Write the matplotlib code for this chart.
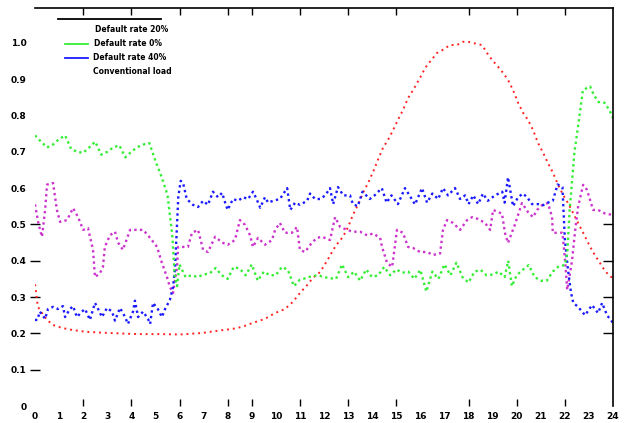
import numpy as np
import matplotlib
matplotlib.use("Agg")
import matplotlib.pyplot as plt
from matplotlib.lines import Line2D

# hours and values
green_h = [0, 0.25, 0.5, 0.75, 1.0, 1.25, 1.5, 1.75, 2.0, 2.25, 2.5, 2.75, 3.0, 3.25, 3.5,
           3.75, 4.0, 4.25, 4.5, 4.75, 5.0, 5.25, 5.5, 5.7, 5.8, 5.9, 6.0, 6.25, 6.5, 6.75,
           7.0, 7.25, 7.5, 7.75, 8.0, 8.25, 8.5, 8.75, 9.0, 9.25, 9.5, 9.75, 10.0, 10.25,
           10.5, 10.75, 11.0, 11.25, 11.5, 11.75, 12.0, 12.25, 12.5, 12.75, 13.0, 13.25,
           13.5, 13.75, 14.0, 14.25, 14.5, 14.75, 15.0, 15.25, 15.5, 15.75, 16.0, 16.25,
           16.5, 16.75, 17.0, 17.25, 17.5, 17.75, 18.0, 18.25, 18.5, 18.75, 19.0, 19.25,
           19.5, 19.65, 19.8, 20.0, 20.25, 20.5, 20.75, 21.0, 21.25, 21.5, 21.75, 22.0,
           22.1, 22.2, 22.3, 22.4, 22.55, 22.65, 22.75, 23.05, 23.2, 23.4, 23.65, 23.85, 24.0]
green_v = [0.745, 0.728, 0.712, 0.720, 0.735, 0.745, 0.708, 0.700, 0.697, 0.712, 0.728, 0.692,
           0.700, 0.712, 0.718, 0.685, 0.700, 0.713, 0.720, 0.724, 0.675, 0.632, 0.582, 0.47,
           0.36, 0.33, 0.39, 0.355, 0.36, 0.355, 0.362, 0.365, 0.38, 0.36, 0.35, 0.383, 0.378,
           0.36, 0.39, 0.345, 0.37, 0.36, 0.36, 0.383, 0.375, 0.33, 0.348, 0.352, 0.358, 0.36,
           0.355, 0.352, 0.35, 0.39, 0.355, 0.37, 0.345, 0.376, 0.355, 0.36, 0.383, 0.36,
           0.376, 0.367, 0.37, 0.35, 0.375, 0.315, 0.37, 0.35, 0.39, 0.36, 0.395, 0.355, 0.34,
           0.37, 0.375, 0.36, 0.362, 0.37, 0.355, 0.40, 0.33, 0.36, 0.375, 0.388, 0.355, 0.345,
           0.345, 0.37, 0.385, 0.388, 0.42, 0.54, 0.62, 0.70, 0.77, 0.82, 0.87, 0.88, 0.857,
           0.837, 0.835, 0.815, 0.793]

blue_h = [0, 0.1, 0.2, 0.42, 0.54, 0.75, 0.95, 1.16, 1.25, 1.45, 1.58, 1.74, 1.95, 2.08, 2.28,
          2.49, 2.62, 2.78, 2.99, 3.2, 3.32, 3.53, 3.74, 3.86, 4.07, 4.15, 4.28, 4.49, 4.69,
          4.78, 4.9, 5.1, 5.27, 5.4, 5.6, 5.73, 5.81, 5.9, 5.95, 6.05, 6.15, 6.3, 6.56, 6.77,
          6.98, 7.18, 7.39, 7.6, 7.77, 7.9, 8.0, 8.22, 8.43, 8.64, 8.85, 9.05, 9.2, 9.35, 9.55,
          9.68, 9.88, 10.17, 10.47, 10.6, 10.8, 11.0, 11.3, 11.42, 11.63, 11.84, 12.05, 12.25,
          12.38, 12.58, 12.8, 13.08, 13.2, 13.4, 13.6, 13.9, 14.1, 14.4, 14.6, 14.8, 15.07,
          15.36, 15.55, 15.78, 16.07, 16.28, 16.5, 16.74, 16.94, 17.15, 17.44, 17.65, 17.86,
          18.0, 18.2, 18.4, 18.6, 18.8, 19.1, 19.4, 19.5, 19.64, 19.85, 20.06, 20.26, 20.43,
          20.64, 20.9, 21.1, 21.3, 21.5, 21.7, 21.9, 22.0, 22.13, 22.26, 22.35, 22.55, 22.84,
          23.13, 23.38, 23.55, 23.75, 24.0]
blue_v = [0.237, 0.237, 0.26, 0.24, 0.267, 0.273, 0.267, 0.275, 0.245, 0.267, 0.275, 0.245,
          0.26, 0.267, 0.237, 0.284, 0.267, 0.245, 0.27, 0.26, 0.235, 0.27, 0.245, 0.226, 0.26,
          0.29, 0.245, 0.26, 0.24, 0.226, 0.284, 0.267, 0.245, 0.267, 0.292, 0.328, 0.375,
          0.504, 0.576, 0.62, 0.614, 0.57, 0.554, 0.548, 0.565, 0.554, 0.59, 0.575, 0.587,
          0.559, 0.54, 0.57, 0.565, 0.575, 0.57, 0.59, 0.57, 0.546, 0.575, 0.56, 0.565, 0.57,
          0.60, 0.54, 0.56, 0.554, 0.565, 0.585, 0.57, 0.57, 0.58, 0.60, 0.556, 0.603, 0.58,
          0.58, 0.556, 0.55, 0.59, 0.57, 0.58, 0.60, 0.56, 0.58, 0.556, 0.60, 0.58, 0.555, 0.60,
          0.56, 0.585, 0.57, 0.60, 0.58, 0.60, 0.57, 0.58, 0.556, 0.58, 0.556, 0.585, 0.565,
          0.58, 0.59, 0.56, 0.63, 0.55, 0.575, 0.585, 0.575, 0.556, 0.556, 0.553, 0.56, 0.565,
          0.61, 0.603, 0.46, 0.375, 0.311, 0.284, 0.273, 0.25, 0.278, 0.256, 0.284, 0.25, 0.229]

mag_h = [0, 0.15, 0.29, 0.42, 0.5, 0.62, 0.75, 0.91, 1.04, 1.33, 1.58, 1.79, 2.0, 2.2, 2.41,
         2.49, 2.7, 2.82, 2.9, 3.11, 3.32, 3.45, 3.65, 3.95, 4.24, 4.49, 4.78, 5.07, 5.27,
         5.48, 5.6, 5.73, 5.9, 5.94, 6.15, 6.35, 6.52, 6.77, 6.98, 7.18, 7.48, 7.77, 8.0, 8.3,
         8.51, 8.72, 8.93, 9.05, 9.26, 9.55, 9.84, 9.97, 10.17, 10.38, 10.67, 10.88, 11.0,
         11.21, 11.5, 11.71, 11.92, 12.25, 12.46, 12.67, 12.96, 13.2, 13.5, 13.79, 14.04,
         14.33, 14.41, 14.62, 14.83, 15.03, 15.28, 15.49, 15.7, 15.99, 16.28, 16.53, 16.82,
         16.94, 17.11, 17.36, 17.65, 17.94, 18.15, 18.4, 18.69, 18.9, 19.02, 19.23, 19.39,
         19.52, 19.64, 19.93, 20.22, 20.47, 20.68, 20.85, 21.05, 21.3, 21.47, 21.5, 21.9,
         21.97, 22.01, 22.1, 22.3, 22.43, 22.55, 22.76, 22.92, 23.05, 23.17, 23.38, 23.67, 24.0]
mag_v = [0.555, 0.50, 0.466, 0.54, 0.61, 0.61, 0.614, 0.54, 0.507, 0.512, 0.545, 0.52, 0.485,
         0.49, 0.43, 0.355, 0.366, 0.383, 0.438, 0.47, 0.48, 0.45, 0.43, 0.485, 0.485, 0.485,
         0.463, 0.438, 0.394, 0.355, 0.328, 0.311, 0.383, 0.438, 0.438, 0.438, 0.477, 0.485,
         0.43, 0.424, 0.466, 0.45, 0.444, 0.457, 0.512, 0.499, 0.47, 0.438, 0.463, 0.444, 0.457,
         0.485, 0.504, 0.477, 0.477, 0.493, 0.43, 0.424, 0.45, 0.463, 0.466, 0.457, 0.52,
         0.493, 0.485, 0.48, 0.48, 0.47, 0.475, 0.463, 0.438, 0.394, 0.383, 0.485, 0.477,
         0.438, 0.435, 0.424, 0.424, 0.416, 0.42, 0.485, 0.512, 0.504, 0.485, 0.512, 0.52,
         0.515, 0.504, 0.485, 0.54, 0.534, 0.53, 0.475, 0.449, 0.50, 0.559, 0.534, 0.52, 0.54,
         0.553, 0.559, 0.52, 0.477, 0.477, 0.43, 0.40, 0.32, 0.40, 0.485, 0.548, 0.609, 0.595,
         0.567, 0.54, 0.54, 0.53, 0.526]

red_h = [0, 0.12, 0.29, 0.5, 0.75, 1.12, 1.58, 2.16, 3.11, 4.24, 5.2, 6.02, 6.94, 7.56, 8.18,
         8.6, 9.05, 9.55, 9.97, 10.38, 10.71, 11.0, 11.3, 11.54, 11.84, 12.13, 12.38, 12.58,
         12.79, 13.0, 13.2, 13.41, 13.62, 13.83, 14.04, 14.24, 14.45, 14.66, 14.87, 15.07,
         15.28, 15.49, 15.7, 15.99, 16.2, 16.4, 16.69, 16.94, 17.23, 17.52, 17.77, 17.98,
         18.36, 18.56, 18.77, 18.98, 19.23, 19.44, 19.64, 19.85, 20.06, 20.27, 20.47, 20.68,
         20.89, 21.1, 21.3, 21.51, 21.72, 21.93, 22.13, 22.34, 22.55, 22.76, 22.97, 23.17,
         23.38, 23.59, 23.75, 23.96]
red_v = [0.335, 0.273, 0.256, 0.237, 0.223, 0.215, 0.209, 0.204, 0.201, 0.198, 0.198, 0.197,
         0.201, 0.207, 0.212, 0.218, 0.229, 0.24, 0.256, 0.267, 0.287, 0.311, 0.333, 0.353,
         0.369, 0.40, 0.43, 0.449, 0.466, 0.493, 0.526, 0.554, 0.587, 0.614, 0.645, 0.678,
         0.711, 0.733, 0.76, 0.788, 0.815, 0.848, 0.87, 0.904, 0.931, 0.948, 0.972, 0.981,
         0.994, 0.994, 1.003, 1.003, 0.997, 0.994, 0.972, 0.953, 0.934, 0.917, 0.898, 0.87,
         0.835, 0.807, 0.788, 0.76, 0.724, 0.697, 0.669, 0.642, 0.609, 0.581, 0.559, 0.532,
         0.504, 0.477, 0.449, 0.424, 0.402, 0.38, 0.366, 0.353]

labels = ["Default rate 20%", "Default rate 0%", "Default rate 40%", "Conventional load"]
x_ticks = list(range(0, 25))
y_ticks = [0, 0.1, 0.2, 0.3, 0.4, 0.5, 0.6, 0.7, 0.8, 0.9, 1.0]

W, H = 625, 423
fig = plt.figure(figsize=(W / 100, H / 100), dpi=100)
ax = fig.add_axes([35 / W, 1 - 406 / H, (613 - 35) / W, (406 - 8) / H])

dots = (0, (1, 1.4))
ax.plot(red_h, red_v, color="#ff2222", lw=1.4, ls=(0, (1, 2)))
ax.plot(mag_h, mag_v, color="#cc33cc", lw=1.7, ls=dots)
ax.plot(blue_h, blue_v, color="#1a1aff", lw=1.7, ls=dots)
ax.plot(green_h, green_v, color="#33ee33", lw=1.7, ls=dots)

ax.set_xlim(0, 24)
ax.set_ylim(0, 1.096)

ax.spines["left"].set_visible(False)
ax.spines["bottom"].set_visible(False)
ax.spines["top"].set_linewidth(1.2)
ax.spines["right"].set_linewidth(1.2)

ax.set_xticks(x_ticks)
ax.set_xticklabels([str(t) for t in x_ticks])
ax.set_yticks(y_ticks)
ax.set_yticklabels(["0" if t == 0 else "%.1f" % t for t in y_ticks])
ax.tick_params(axis="x", length=0, pad=4, labelsize=6.5)
ax.tick_params(axis="y", which="major", length=0, pad=6, labelsize=6.5)
for lab in ax.get_xticklabels() + ax.get_yticklabels():
    lab.set_fontweight("bold")

# small tick marks along the edges (they sit on major positions, keep them)
ax.xaxis.remove_overlapping_locs = False
ax.yaxis.remove_overlapping_locs = False
ax.set_xticks([2, 4, 6, 8, 9, 11, 13, 15, 18, 20, 22], minor=True)
ax.tick_params(axis="x", which="minor", top=True, bottom=True, direction="in",
               length=5, width=1)
ax.set_yticks([0.1, 0.2, 0.3, 0.4, 0.5], minor=True)
ax.tick_params(axis="y", which="minor", left=True, right=False, direction="inout",
               length=7, width=1)

# right edge ticks point inward only
ax2 = ax.twinx()
ax2.set_ylim(ax.get_ylim())
ax2.set_yticks([0.2, 0.3, 0.4, 0.5])
ax2.set_yticklabels([])
ax2.tick_params(axis="y", left=False, right=True, direction="in", length=7, width=1)
for s in ax2.spines.values():
    s.set_visible(False)

# legend drawn by hand at the top left
def fx(px):
    return px / W

def fy(py):
    return 1 - py / H

fig.add_artist(Line2D([fx(58), fx(161)], [fy(19), fy(19)], color="black", lw=1.3))
fig.add_artist(Line2D([fx(65), fx(88)], [fy(44), fy(44)], color="#33ee33", lw=1.3))
fig.add_artist(Line2D([fx(65), fx(88)], [fy(58), fy(58)], color="#1a1aff", lw=1.3))
for txt, px, py in zip(labels, [95, 94, 93, 93], [30, 44, 58, 72]):
    fig.text(fx(px), fy(py), txt, fontsize=5.5, fontweight="bold", va="center", ha="left")

fig.savefig("out.png", dpi=100)
